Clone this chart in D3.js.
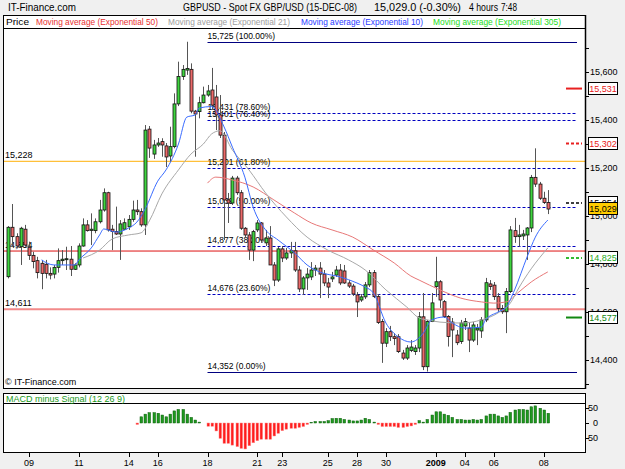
<!DOCTYPE html>
<html lang="en">
<head>
    <meta charset="UTF-8">
    <title>GBPUSD 4 hours</title>
    <script src="https://cdn.jsdelivr.net/npm/d3@7"></script>
    <style>
        body {
            margin: 0;
            background: #f0f0f0;
        }

        svg {
            display: block;
            font-family: Arial, "Liberation Sans", sans-serif;
        }
    </style>
</head>
<body>
<svg width="625" height="469"></svg>

<script>

    // 4 hour bars, 09-Dec-08 .. 08-Jan-09 (price x 10000)
    var open = [14747, 14953, 14914, 14872, 14945, 14870, 14836, 14814, 14803, 14799,
        14761, 14758, 14786, 14814, 14818, 14820, 14778, 14796, 14875, 14963,
        14940, 14939, 14976, 15025, 15097, 14945, 14935, 14925, 14945, 14955,
        14986, 15025, 15018, 14963, 15362, 15258, 15296, 15310, 15292, 15250,
        15289, 15467, 15581, 15608, 15611, 15437, 15435, 15472, 15504, 15525,
        15496, 15421, 15337, 15067, 15054, 15158, 15097, 14949, 14921, 14858,
        14942, 14971, 14888, 14908, 14796, 14733, 14863, 14825, 14846, 14855,
        14775, 14696, 14742, 14746, 14775, 14783, 14758, 14721, 14738, 14754,
        14775, 14771, 14721, 14708, 14671, 14650, 14663, 14713, 14764, 14664,
        14560, 14470, 14518, 14497, 14497, 14429, 14408, 14440, 14435, 14450,
        14580, 14372, 14560, 14706, 14726, 14643, 14581, 14558, 14504, 14477,
        14542, 14533, 14483, 14525, 14521, 14567, 14717, 14712, 14664, 14615,
        14601, 14685, 14939, 14914, 14917, 14921, 14950, 15161, 15133, 15074,
        15056];
    var high = [14958, 15050, 14928, 14955, 14963, 14893, 14851, 14830, 14817, 14817,
        14786, 14796, 14865, 14858, 14872, 14875, 14803, 14886, 14990, 14983,
        15011, 14990, 15067, 15115, 15101, 14963, 15039, 14983, 14990, 15004,
        15064, 15067, 15032, 15379, 15375, 15317, 15325, 15324, 15304, 15372,
        15511, 15643, 15629, 15726, 15636, 15442, 15497, 15539, 15546, 15617,
        15546, 15504, 15350, 15096, 15167, 15167, 15108, 14954, 14933, 14942,
        14983, 14975, 14942, 14958, 14808, 14871, 14875, 14867, 14892, 14892,
        14792, 14750, 14783, 14808, 14796, 14808, 14775, 14742, 14767, 14792,
        14800, 14796, 14733, 14717, 14683, 14675, 14725, 14775, 14775, 14675,
        14571, 14533, 14542, 14512, 14508, 14442, 14462, 14483, 14462, 14600,
        14679, 14567, 14679, 14830, 14733, 14650, 14587, 14575, 14525, 14567,
        14575, 14558, 14558, 14550, 14579, 14742, 14733, 14725, 14679, 14629,
        14700, 14958, 14992, 14963, 14942, 14954, 15171, 15282, 15142, 15101,
        15108];
    var low = [14740, 14872, 14865, 14796, 14872, 14817, 14782, 14740, 14695, 14740,
        14736, 14740, 14764, 14796, 14775, 14750, 14775, 14786, 14872, 14935,
        14879, 14928, 14969, 15018, 14935, 14858, 14921, 14817, 14942, 14942,
        14976, 15004, 14955, 14921, 15242, 15238, 15288, 15247, 15204, 15226,
        15282, 15458, 15567, 15588, 15428, 15247, 15407, 15469, 15497, 15442,
        15358, 15325, 14900, 14971, 15046, 15088, 14942, 14908, 14817, 14812,
        14933, 14888, 14875, 14796, 14708, 14725, 14808, 14817, 14825, 14767,
        14683, 14671, 14692, 14733, 14750, 14658, 14708, 14658, 14725, 14746,
        14712, 14717, 14700, 14667, 14579, 14642, 14654, 14704, 14658, 14550,
        14388, 14454, 14479, 14462, 14429, 14400, 14400, 14433, 14421, 14433,
        14358, 14352, 14558, 14663, 14617, 14575, 14456, 14412, 14462, 14467,
        14525, 14433, 14475, 14462, 14492, 14558, 14692, 14650, 14600, 14592,
        14512, 14679, 14888, 14872, 14900, 14817, 14933, 15121, 15067, 15050,
        15008];
    var close = [14953, 14914, 14875, 14949, 14879, 14836, 14810, 14764, 14761, 14761,
        14754, 14786, 14814, 14820, 14822, 14778, 14796, 14875, 14963, 14939,
        14945, 14976, 15025, 15097, 14942, 14935, 14925, 14967, 14972, 14986,
        15025, 15018, 14963, 15358, 15283, 15296, 15304, 15296, 15246, 15289,
        15467, 15581, 15611, 15615, 15437, 15425, 15472, 15504, 15521, 15462,
        15421, 15337, 15067, 15054, 15158, 15097, 14949, 14921, 14858, 14935,
        14971, 14900, 14908, 14796, 14733, 14863, 14825, 14846, 14855, 14775,
        14696, 14742, 14758, 14775, 14783, 14758, 14721, 14704, 14746, 14775,
        14721, 14721, 14708, 14675, 14642, 14663, 14713, 14764, 14664, 14556,
        14470, 14518, 14497, 14490, 14435, 14408, 14450, 14454, 14450, 14580,
        14372, 14560, 14638, 14726, 14650, 14581, 14498, 14525, 14472, 14554,
        14560, 14483, 14546, 14533, 14567, 14722, 14706, 14664, 14615, 14601,
        14685, 14942, 14914, 14921, 14925, 14950, 15161, 15133, 15074, 15056,
        15029];

    // MACD minus signal, first value belongs to bar 31
    var macdStart = 31;
    var macdHist = [-5, 21, 30, 35, 35, 33, 27, 21, 30, 41, 46, 46, 30, 19, 10, 3, 0, -11, -11, -27,
        -52, -69, -69, -75, -80, -86, -88, -77, -67, -60, -55, -55, -55, -44, -35, -26, -21, -18, -18, -15,
        -12, -5, 2, 5, 5, 5, 8, 15, 16, 16, 12, 10, 7, 7, 10, 16, 12, 3, -5, -12,
        -12, -12, -12, -15, -15, -12, -10, -5, 8, 3, 12, 27, 38, 38, 30, 26, 19, 12, 12, 10,
        10, 12, 10, 12, 24, 30, 30, 24, 19, 24, 36, 44, 46, 46, 44, 55, 58, 50, 44, 33];

    // moving averages: [bar, price]
    var ema10 = [[8, 14817], [11, 14796], [16, 14796], [17, 14817], [20, 14867], [22, 14921], [23, 14946],
        [26, 14933], [29, 14950], [31, 14975], [33, 15030], [36, 15145], [38, 15192], [41, 15300],
        [43, 15412], [45, 15421], [46, 15450], [49, 15456], [52, 15371], [54, 15287], [57, 15162],
        [59, 15037], [62, 14942], [65, 14900], [69, 14846], [72, 14796], [75, 14767], [80, 14746],
        [84, 14721], [86, 14704], [88, 14679], [91, 14554], [94, 14496], [97, 14475], [100, 14512],
        [102, 14567], [105, 14579], [107, 14554], [110, 14533], [114, 14537], [115, 14567], [118, 14600],
        [120, 14621], [122, 14692], [125, 14829], [127, 14912], [130, 14983]];
    var ema21 = [[18, 14825], [22, 14858], [25, 14904], [29, 14921], [32, 14930], [34, 14980],
        [37, 15092], [41, 15192], [44, 15258], [47, 15300], [49, 15342], [51, 15355], [54, 15275],
        [58, 15192], [62, 15096], [67, 14996], [72, 14912], [77, 14858], [82, 14817], [86, 14775],
        [91, 14692], [96, 14621], [99, 14575], [101, 14567], [104, 14558], [109, 14554], [114, 14567],
        [118, 14596], [121, 14638], [123, 14700], [126, 14780], [130, 14867]];
    var ema50 = [[48, 15137], [50, 15162], [54, 15150], [59, 15121], [64, 15067], [69, 15012], [73, 14971],
        [78, 14942], [83, 14912], [88, 14858], [93, 14804], [97, 14750], [99, 14733], [104, 14692],
        [109, 14658], [114, 14642], [117, 14637], [120, 14642], [123, 14683], [126, 14725], [130, 14767]];

    var dayLabels = ['09', '11', '14', '16', '18', '21', '23', '25', '28', '30', '2009', '04', '06', '08'];
    var dayIndex = [5, 17, 29, 36, 48, 60, 66, 77, 84, 91, 103, 110, 117, 129];

    var priceTicks = d3.range(14300, 15800, 100);
    var priceLabels = d3.range(14400, 15700, 200);
    var macdTicks = [50, 0, -50];

    var fibPrices = [15725, 15431, 15401, 15201, 15039, 14877, 14676, 14352];
    var fibPcts = ['100.00', '78.60', '76.40', '61.80', '50.00', '38.20', '23.60', '0.00'];
    var levelPrices = [15228, 14854, 14611];
    var pivotPrices = [15531, 15302, 15054, 14825, 14577];

    var legendNames = ['Price', 'Moving average (Exponential 50)', 'Moving average (Exponential 21)',
        'Moving average (Exponential 10)', 'Moving average (Exponential 305)'];

    var fmt = d3.format(',');
    var svg = d3.select('svg');

    var x = d3.scaleLinear().domain([0, 130]).range([8.3, 547.8]);
    var y = d3.scaleLinear().domain([14400, 15600]).range([360, 72]);
    var my = d3.scaleLinear().domain([-50, 50]).range([437.75, 408.25]);

    svg.append('rect')
        .attr('width', 625)
        .attr('height', 469)
        .attr('fill', '#f0f0f0');

    // header, each piece squeezed to the width it has in the original
    var header = [
        {x: 8, w: 68, t: 'IT-Finance.com'},
        {x: 183, w: 174, t: 'GBPUSD - Spot FX GBP/USD (15-DEC-08)'},
        {x: 374, w: 87, t: fmt(close[close.length - 1]) + '.0 (-0.30%)'},
        {x: 469, w: 29, t: '4 hours'},
        {x: 501, w: 16, t: '7:48'}
    ];
    svg.selectAll('.head')
        .data(header)
        .enter().append('text')
        .attr('x', function (d) { return d.x; })
        .attr('y', 11)
        .attr('font-size', '11px')
        .attr('textLength', function (d) { return d.w; })
        .attr('lengthAdjust', 'spacingAndGlyphs')
        .text(function (d) { return d.t; });

    // price panel
    svg.append('rect')
        .attr('x', 3.5).attr('y', 15.5)
        .attr('width', 582).attr('height', 373)
        .attr('fill', '#fff')
        .attr('stroke', '#000');
    svg.append('line')
        .attr('x1', 3.5).attr('x2', 585.5)
        .attr('y1', 28.5).attr('y2', 28.5)
        .attr('stroke', '#000');

    var legendX = [6, 36, 168, 301, 433];
    var legendW = [23, 122, 122, 122, 128];
    var legendColors = ['#000', '#e83030', '#a0a0a0', '#2a3cff', '#22dd22'];
    svg.selectAll('.legend')
        .data(legendNames)
        .enter().append('text')
        .attr('class', 'legend')
        .attr('x', function (d, i) { return legendX[i]; })
        .attr('y', 25)
        .attr('font-size', '9px')
        .attr('textLength', function (d, i) { return legendW[i]; })
        .attr('lengthAdjust', 'spacingAndGlyphs')
        .attr('fill', function (d, i) { return legendColors[i]; })
        .text(function (d) { return d; });

    svg.append('clipPath')
        .attr('id', 'plot')
        .append('rect')
        .attr('x', 4).attr('y', 29)
        .attr('width', 581).attr('height', 359);

    var plot = svg.append('g').attr('clip-path', 'url(#plot)');

    // horizontal levels
    var levelColors = ['#ffc03a', '#dd1111', '#f28a8a'];
    var levelWidths = [1.2, 1, 2];
    plot.selectAll('.level')
        .data(levelPrices)
        .enter().append('line')
        .attr('x1', 4).attr('x2', 585)
        .attr('y1', function (d) { return y(d); })
        .attr('y2', function (d) { return y(d); })
        .attr('stroke', function (d, i) { return levelColors[i]; })
        .attr('stroke-width', function (d, i) { return levelWidths[i]; });
    plot.selectAll('.level-label')
        .data(levelPrices)
        .enter().append('text')
        .attr('x', 5)
        .attr('y', function (d) { return y(d) - 3; })
        .attr('font-size', '9px')
        .text(function (d) { return fmt(d); });

    // fibonacci retracement
    var fibLeft = x(48), fibRight = 577;
    plot.selectAll('.fib')
        .data(fibPrices)
        .enter().append('line')
        .attr('x1', fibLeft).attr('x2', fibRight)
        .attr('y1', function (d) { return Math.round(y(d)) + 0.5; })
        .attr('y2', function (d) { return Math.round(y(d)) + 0.5; })
        .attr('stroke', function (d, i) { return (i === 0 || i === fibPrices.length - 1) ? '#000080' : '#0000c0'; })
        .attr('stroke-dasharray', function (d, i) { return (i === 0 || i === fibPrices.length - 1) ? null : '3,2'; });
    plot.selectAll('.fib-label')
        .data(fibPrices)
        .enter().append('text')
        .attr('x', fibLeft)
        .attr('y', function (d) { return y(d) - 3; })
        .attr('font-size', '8.5px')
        .text(function (d, i) { return fmt(d) + ' (' + fibPcts[i] + '%)'; });

    // candles
    var bars = close.map(function (c, i) {
        return {i: i, o: open[i], h: high[i], l: low[i], c: c};
    });
    plot.selectAll('.wick')
        .data(bars)
        .enter().append('line')
        .attr('x1', function (d) { return Math.round(x(d.i)) + 0.5; })
        .attr('x2', function (d) { return Math.round(x(d.i)) + 0.5; })
        .attr('y1', function (d) { return y(d.h); })
        .attr('y2', function (d) { return y(d.l); })
        .attr('stroke', '#555')
        .attr('stroke-width', 1);
    plot.selectAll('.body')
        .data(bars)
        .enter().append('rect')
        .attr('x', function (d) { return Math.round(x(d.i)) - 1; })
        .attr('y', function (d) { return y(Math.max(d.o, d.c)); })
        .attr('width', 3)
        .attr('height', function (d) { return Math.max(1, Math.abs(y(d.o) - y(d.c))); })
        .attr('fill', function (d) { return d.c >= d.o ? '#3fd43f' : '#ec6a6a'; })
        .attr('stroke', '#111')
        .attr('stroke-width', 0.8);

    // moving averages
    var maLine = d3.line()
        .curve(d3.curveMonotoneX)
        .x(function (d) { return x(d[0]); })
        .y(function (d) { return y(d[1]); });
    var maSeries = [ema50, ema21, ema10];
    var maColors = ['#e87878', '#a8a8a8', '#3a6cff'];
    plot.selectAll('.ma')
        .data(maSeries)
        .enter().append('path')
        .attr('d', maLine)
        .attr('fill', 'none')
        .attr('stroke', function (d, i) { return maColors[i]; })
        .attr('stroke-width', 1);

    // pivot markers
    var pivotColors = ['#e82020', '#e82020', '#000', '#33bb33', '#118811'];
    var pivotDash = [null, '3,2', '3,2', '3,2', null];
    var pivotWidths = [2, 2, 1.5, 2, 2];
    plot.selectAll('.pivot')
        .data(pivotPrices)
        .enter().append('line')
        .attr('x1', 566).attr('x2', 582)
        .attr('y1', function (d) { return y(d); })
        .attr('y2', function (d) { return y(d); })
        .attr('stroke', function (d, i) { return pivotColors[i]; })
        .attr('stroke-width', function (d, i) { return pivotWidths[i]; })
        .attr('stroke-dasharray', function (d, i) { return pivotDash[i]; });

    svg.append('text')
        .attr('x', 5).attr('y', 385)
        .attr('font-size', '9px')
        .text('\u00a9 IT-Finance.com');

    svg.append('line')
        .attr('x1', 585.5).attr('x2', 585.5)
        .attr('y1', 15).attr('y2', 389)
        .attr('stroke', '#000')
        .attr('stroke-width', 1.5);

    // right price axis
    svg.selectAll('.ptick')
        .data(priceTicks)
        .enter().append('line')
        .attr('x1', 586).attr('x2', 589)
        .attr('y1', function (d) { return Math.round(y(d)) + 0.5; })
        .attr('y2', function (d) { return Math.round(y(d)) + 0.5; })
        .attr('stroke', '#000');
    svg.selectAll('.plabel')
        .data(priceLabels)
        .enter().append('text')
        .attr('x', 590)
        .attr('y', function (d) { return y(d); })
        .attr('dy', '0.35em')
        .attr('font-size', '9px')
        .text(function (d) { return fmt(d); });

    // value boxes on the axis
    var boxPrices = pivotPrices.slice(0, 3).concat([close[close.length - 1]], pivotPrices.slice(3));
    var boxText = ['#e82020', '#e82020', '#000', '#000', '#22aa22', '#118811'];
    var boxFill = ['#fff', '#fff', '#fff', '#ffcc00', '#fff', '#fff'];
    var box = svg.selectAll('.box')
        .data(boxPrices)
        .enter().append('g')
        .attr('transform', function (d) { return 'translate(588.5,' + (Math.round(y(d)) - 6.5) + ')'; });
    box.append('rect')
        .attr('width', 29).attr('height', 12)
        .attr('fill', function (d, i) { return boxFill[i]; })
        .attr('stroke', '#000');
    box.append('text')
        .attr('x', 14.5).attr('y', 6)
        .attr('dy', '0.35em')
        .attr('text-anchor', 'middle')
        .attr('font-size', '9px')
        .attr('fill', function (d, i) { return boxText[i]; })
        .text(function (d) { return fmt(d); });

    // MACD panel
    svg.append('rect')
        .attr('x', 3.5).attr('y', 393.5)
        .attr('width', 582).attr('height', 59)
        .attr('fill', '#fff')
        .attr('stroke', '#000');
    svg.append('line')
        .attr('x1', 3.5).attr('x2', 585.5)
        .attr('y1', 403.5).attr('y2', 403.5)
        .attr('stroke', '#000');
    svg.append('text')
        .attr('x', 6).attr('y', 401.5)
        .attr('font-size', '9px')
        .attr('fill', '#1a9a1a')
        .text('MACD minus Signal (12 26 9)');

    svg.selectAll('.macd')
        .data(macdHist)
        .enter().append('rect')
        .attr('x', function (d, i) { return Math.round(x(macdStart + i)) - 1; })
        .attr('y', function (d) { return my(Math.max(d, 0)); })
        .attr('width', 2.6)
        .attr('height', function (d) { return Math.abs(my(d) - my(0)); })
        .attr('fill', function (d) { return d >= 0 ? '#1f991f' : '#ff1c1c'; })
        .attr('stroke', function (d) { return d >= 0 ? '#0e5f0e' : '#ff8a8a'; })
        .attr('stroke-width', 0.5);

    svg.selectAll('.mtick')
        .data(macdTicks)
        .enter().append('line')
        .attr('x1', 586).attr('x2', 589)
        .attr('y1', function (d) { return Math.round(my(d)) + 0.5; })
        .attr('y2', function (d) { return Math.round(my(d)) + 0.5; })
        .attr('stroke', '#000');
    svg.selectAll('.mlabel')
        .data(macdTicks)
        .enter().append('text')
        .attr('x', 598)
        .attr('y', function (d) { return my(d); })
        .attr('dy', '0.35em')
        .attr('text-anchor', 'end')
        .attr('font-size', '9px')
        .text(function (d) { return d; });

    // date axis
    svg.selectAll('.dtick')
        .data(dayIndex)
        .enter().append('line')
        .attr('x1', function (d) { return Math.round(x(d)) + 0.5; })
        .attr('x2', function (d) { return Math.round(x(d)) + 0.5; })
        .attr('y1', 453).attr('y2', 457)
        .attr('stroke', '#000');
    svg.selectAll('.dlabel')
        .data(dayLabels)
        .enter().append('text')
        .attr('x', function (d, i) { return x(dayIndex[i]); })
        .attr('y', 466)
        .attr('text-anchor', 'middle')
        .attr('font-size', '9px')
        .attr('font-weight', function (d) { return d.length > 2 ? 'bold' : 'normal'; })
        .text(function (d) { return d; });

</script>

</body>
</html>
